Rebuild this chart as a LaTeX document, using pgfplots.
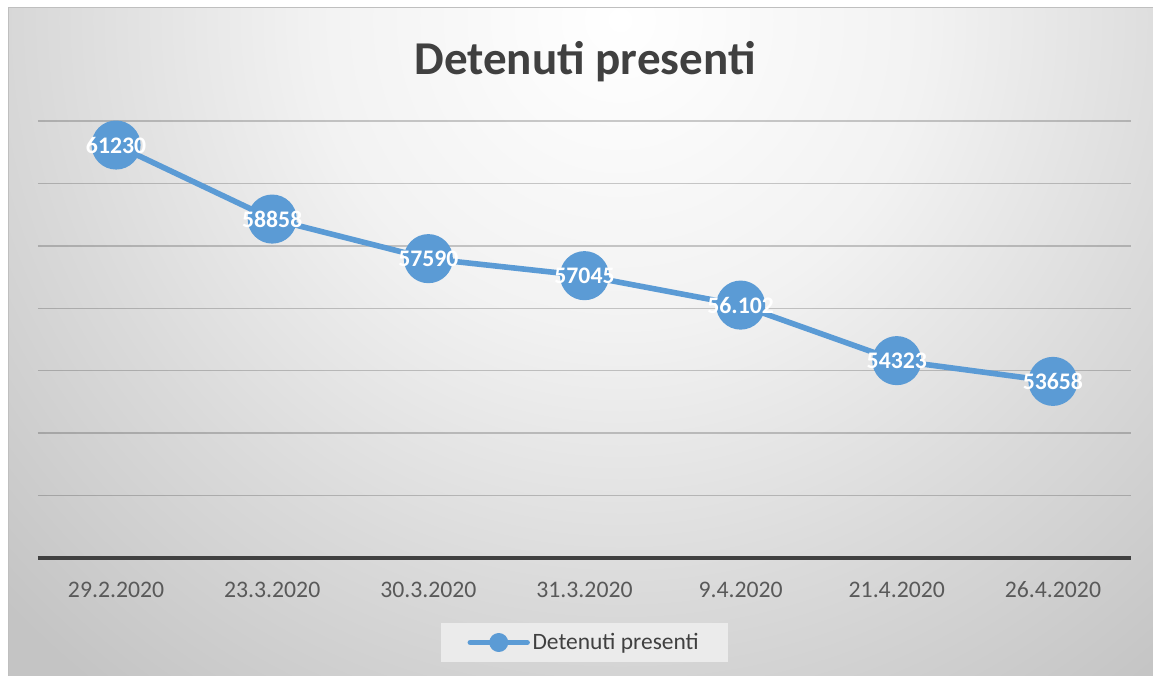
\documentclass[border=0pt]{standalone}
\usepackage{pgfplots}
\pgfplotsset{compat=1.18}
\usepackage{fontspec}
\setmainfont{Carlito}
\definecolor{serie}{HTML}{5B9BD5}
\definecolor{titlec}{HTML}{404040}
\definecolor{tickc}{HTML}{595959}
\definecolor{legc}{HTML}{EBEBEB}
\definecolor{bgA}{HTML}{C4C4C4}
\definecolor{bgB}{HTML}{DADADA}
\definecolor{bgC}{HTML}{F2F2F2}
\definecolor{bordc}{HTML}{BFBFBF}
\pgfdeclareradialshading{bgrad}{\pgfpoint{0bp}{0bp}}{color(0bp)=(white); color(9bp)=(bgC); color(17bp)=(bgB); color(25bp)=(bgA); color(50bp)=(bgA)}
\begin{document}
\begin{tikzpicture}
\path[use as bounding box] (0pt,0pt) rectangle (864.75pt,506.25pt);
\fill[white] (-3pt,-3pt) rectangle (868pt,509pt);
\begin{scope}
\clip (6pt,-3pt) rectangle (868pt,500.25pt);
\fill[bgA] (6pt,-3pt) rectangle (868pt,500.25pt);
\shade[shading=bgrad] (465pt,491.25pt) circle (637.5pt);
\end{scope}
\draw[bordc, line width=0.75pt] (6pt,-3pt) -- (6pt,500.25pt) -- (868pt,500.25pt);
\node[font=\bfseries\fontsize{35.3}{40}\selectfont, text=titlec, anchor=base] at (438.75pt,450pt) {Detenuti presenti};
\begin{axis}[
  at={(28.5pt,87.75pt)}, anchor=south west,
  scale only axis, width=819.75pt, height=327.75pt,
  xmin=-0.5, xmax=6.5, ymin=48000, ymax=62000,
  scaled y ticks=false,
  xtick={0,...,6},
  xticklabels={29.2.2020,23.3.2020,30.3.2020,31.3.2020,9.4.2020,21.4.2020,26.4.2020},
  ytick={50000,52000,54000,56000,58000,60000,62000}, yticklabels={},
  extra y ticks={48000}, extra y tick labels={},
  extra y tick style={grid style={draw=titlec, line width=3pt, opacity=1}},
  ymajorgrids, grid style={black, opacity=0.2, line width=1.1pt},
  major tick length=0pt, axis line style={draw=none},
  xticklabel style={anchor=base, yshift=-29.25pt, font=\fontsize{17.8}{20}\selectfont, text=tickc},
  clip=false,
  nodes near coords, point meta=explicit symbolic,
  every node near coord/.append style={anchor=center, text=white, font=\bfseries\fontsize{17.8}{20}\selectfont},
  legend style={at={(0.5,-0.1934)}, anchor=center, fill=legc, draw=none,
    inner xsep=20pt, inner ysep=6pt, font=\fontsize{17.6}{20}\selectfont, text=titlec},
  legend image code/.code={\draw[serie, line width=4pt, line cap=round] (0pt,0pt) -- (42.75pt,0pt); \fill[serie] (21.4pt,0pt) circle (5pt);},
]
\addplot[serie, line width=4.2pt, line join=round, mark=*, mark size=16.3pt, mark options={solid, fill=serie, draw=none}]
  coordinates {(0,61230)[61230] (1,58858)[58858] (2,57590)[57590] (3,57045)[57045] (4,56102)[56.102] (5,54323)[54323] (6,53658)[53658]};
\addlegendentry{Detenuti presenti}
\end{axis}
\end{tikzpicture}
\end{document}
